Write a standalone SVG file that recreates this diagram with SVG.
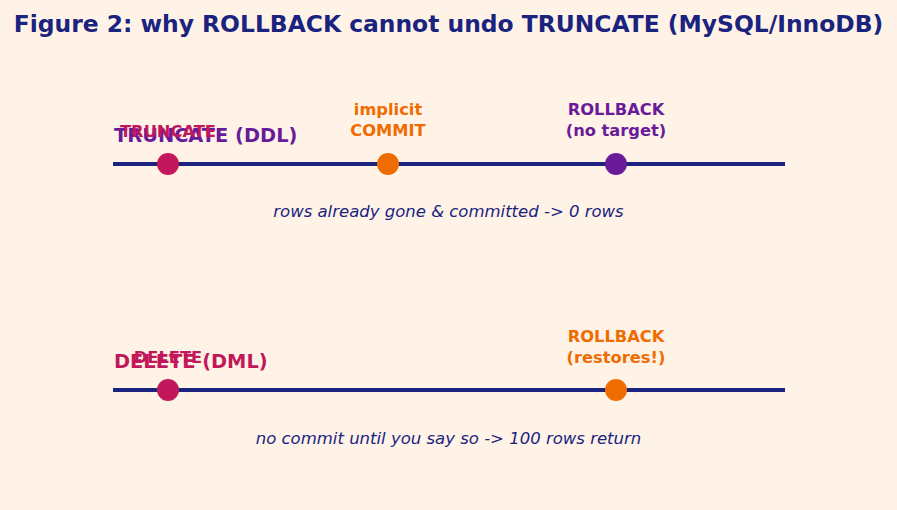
<svg xmlns="http://www.w3.org/2000/svg" width="897" height="510" viewBox="0 0 897 510">
<style>
text{font-family:"DejaVu Sans","Liberation Sans",sans-serif}
.title{font-size:23.4px;font-weight:bold;fill:#1a237e}
.lane{font-size:19.4px;font-weight:bold}
.lbl{font-size:16.3px;font-weight:bold;text-anchor:middle}
.cap{font-size:16.5px;font-style:italic;fill:#1a237e;text-anchor:middle}
.tl{stroke:#1a237e;stroke-width:4}
.crim{fill:#c2185b}.orng{fill:#ef6c00}.purp{fill:#6a1b9a}
</style>
<rect width="897" height="510" fill="#fff3e8"/>
<text class="title" x="448.5" y="32" text-anchor="middle">Figure 2: why ROLLBACK cannot undo TRUNCATE (MySQL/InnoDB)</text>
<g id="connectors">
<line class="tl" x1="113" y1="164" x2="785" y2="164"/>
<line class="tl" x1="113" y1="390" x2="785" y2="390"/>
</g>
<g id="lane-truncate">
<text class="lane purp" x="114" y="142">TRUNCATE (DDL)</text>
<text class="cap" x="448.5" y="217">rows already gone &amp; committed -&gt; 0 rows</text>
</g>
<g id="n-truncate"><circle class="crim" cx="168" cy="164" r="11"/><text class="lbl crim" x="168" y="137">TRUNCATE</text></g>
<g id="n-commit"><circle class="orng" cx="388" cy="164" r="11"/><text class="lbl orng" x="388" y="115">implicit</text><text class="lbl orng" x="388" y="136">COMMIT</text></g>
<g id="n-rollback1"><circle class="purp" cx="616" cy="164" r="11"/><text class="lbl purp" x="616" y="115">ROLLBACK</text><text class="lbl purp" x="616" y="136">(no target)</text></g>
<g id="lane-delete">
<text class="lane crim" x="114" y="368">DELETE (DML)</text>
<text class="cap" x="448.5" y="444">no commit until you say so -&gt; 100 rows return</text>
</g>
<g id="n-delete"><circle class="crim" cx="168" cy="390" r="11"/><text class="lbl crim" x="168" y="363">DELETE</text></g>
<g id="n-rollback2"><circle class="orng" cx="616" cy="390" r="11"/><text class="lbl orng" x="616" y="342">ROLLBACK</text><text class="lbl orng" x="616" y="363">(restores!)</text></g>
</svg>
